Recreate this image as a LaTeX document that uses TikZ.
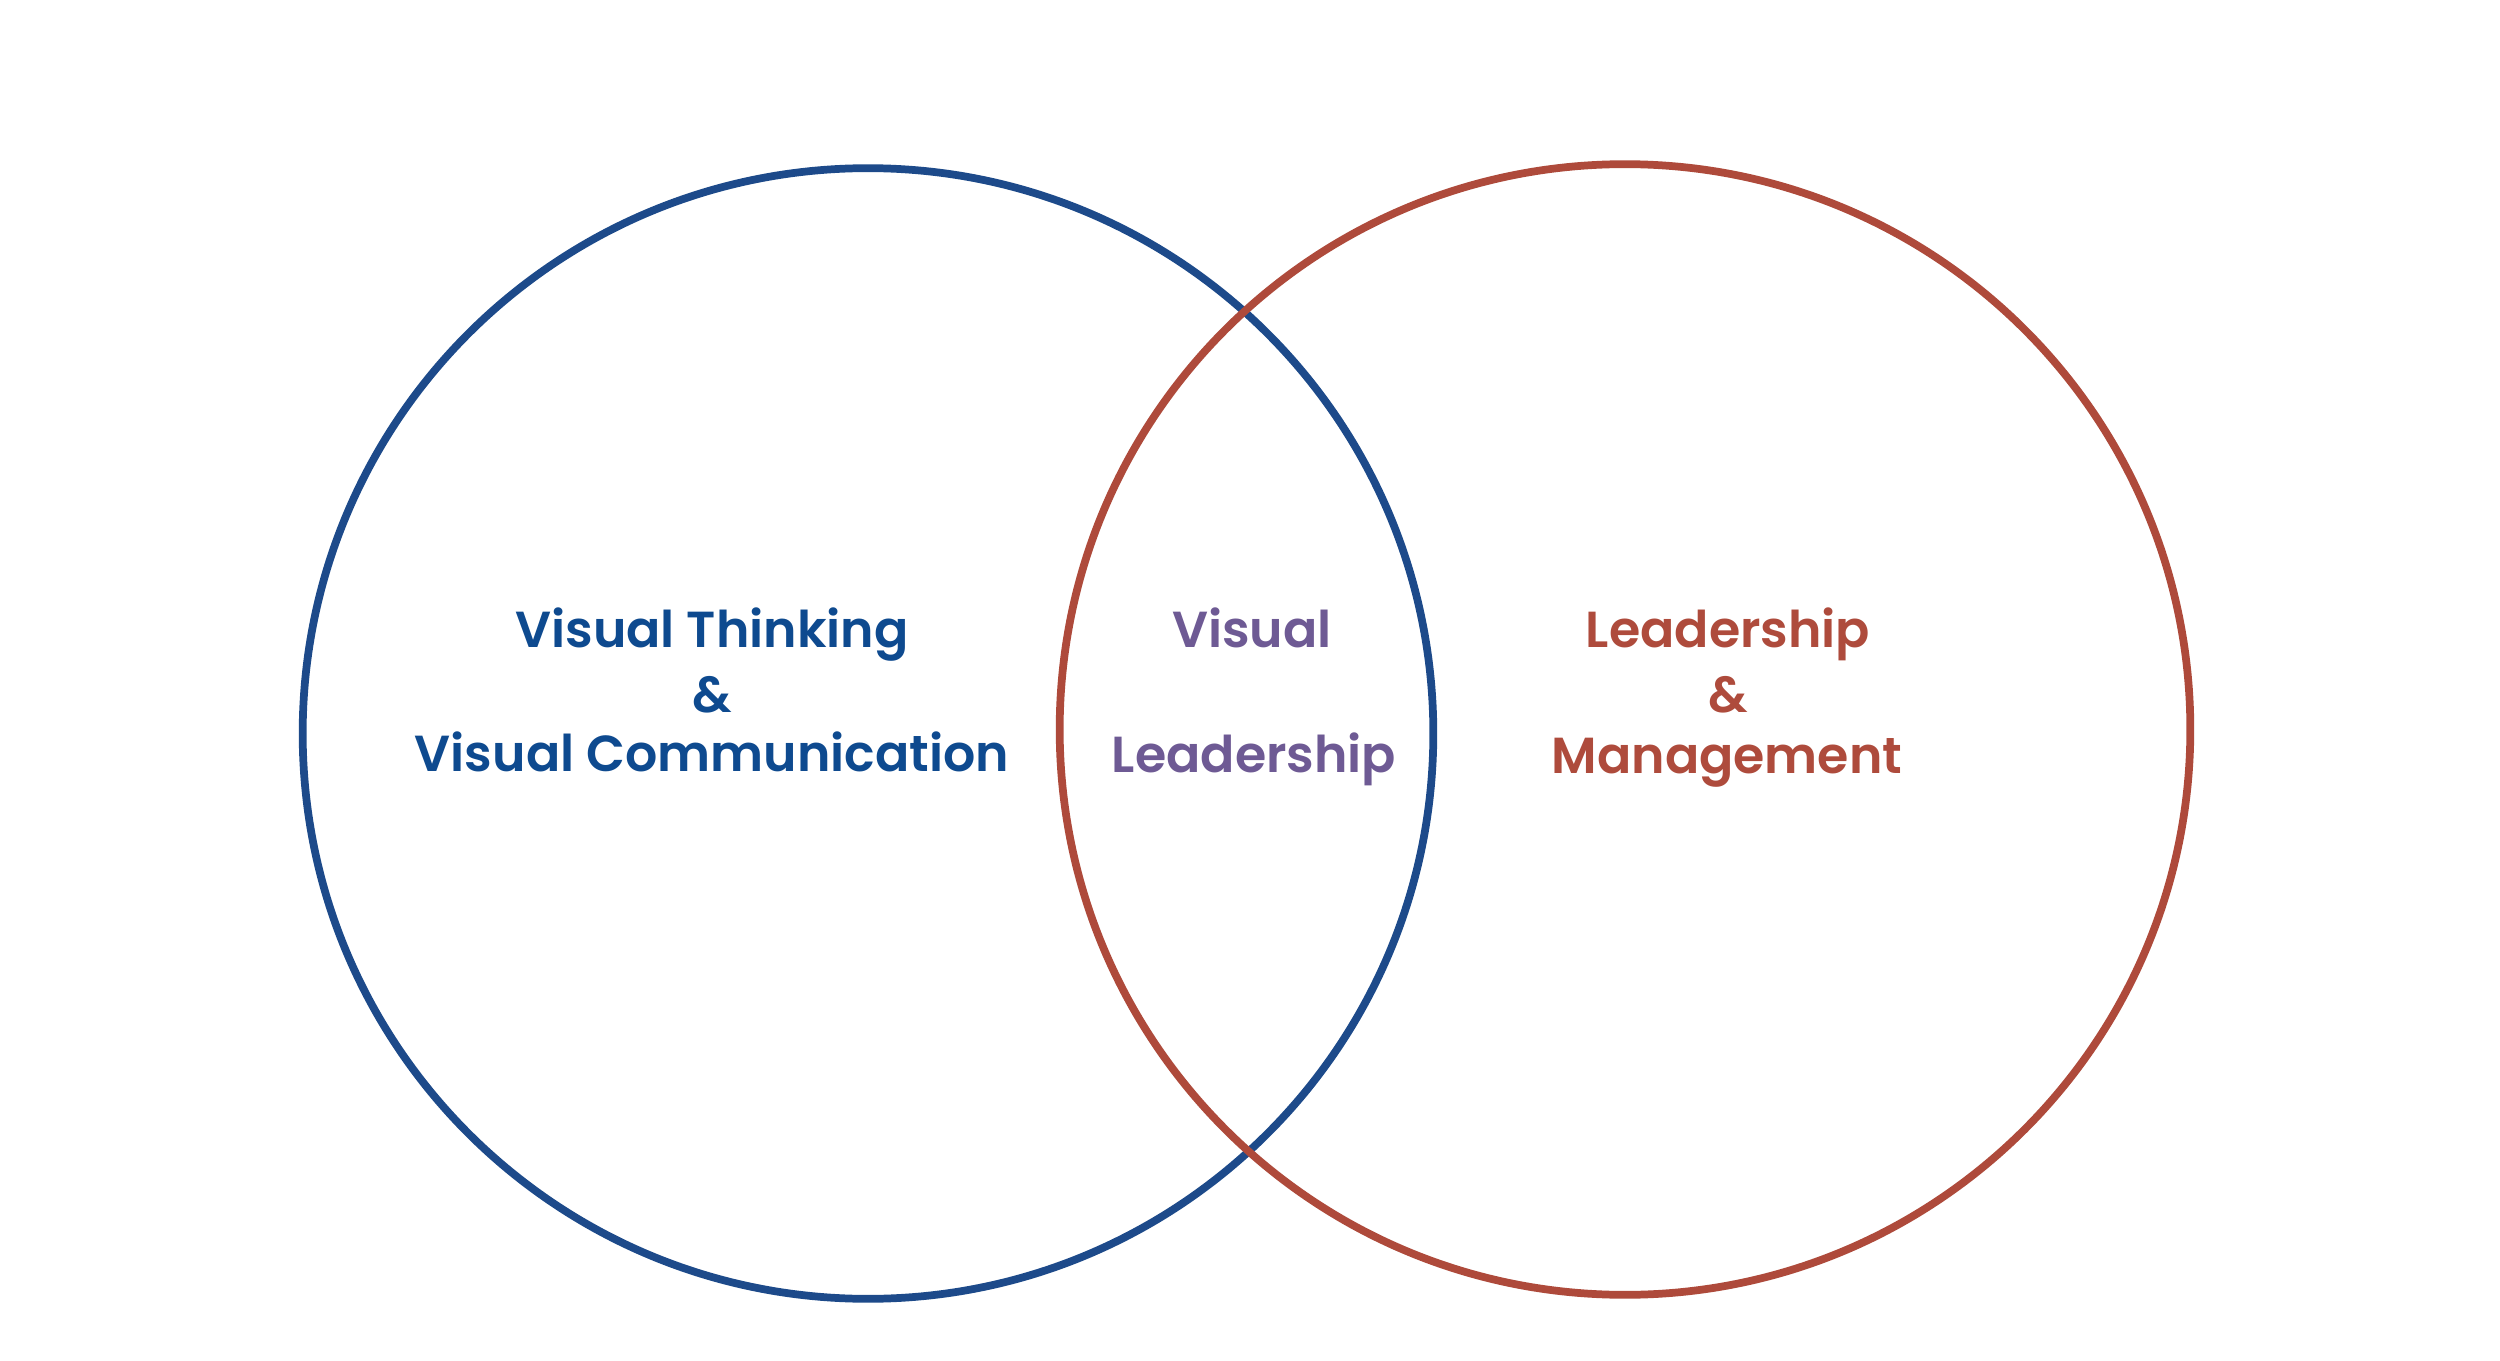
\documentclass[tikz,border=0pt]{standalone}
\usepackage{fontspec}
\newfontfamily\vfont{Poppins}[UprightFont=* SemiBold]
\definecolor{cblue}{HTML}{1D4A8A}
\definecolor{cred}{HTML}{AE4A3B}
\definecolor{tblue}{HTML}{0E4A8F}
\definecolor{tpurple}{HTML}{6E5A94}
\definecolor{tred}{HTML}{AE4B3C}
\begin{document}
\begin{tikzpicture}[x=0.01cm,y=-0.01cm,
  ring/.style={line width=2.2pt},
  lbl/.style={anchor=base,inner sep=0pt,font=\vfont\fontsize{14.4}{17}\selectfont}]
\useasboundingbox[fill=white] (0,0) rectangle (2500,1361);
\draw[ring,cblue] (868,733.5) circle[radius=5.65cm];
\draw[ring,cred] (1625,729.5) circle[radius=5.65cm];
% left
\node[lbl,text=tblue] (l1) at (712,647) {Visual Thinking};
\node[lbl,text=tblue] (l2) at (712,712) {\&};
\node[lbl,text=tblue] (l3) at (712,771) {Visual Communication};
% middle
\node[lbl,text=tpurple] (m1) at (1252,647) {Visual};
\node[lbl,text=tpurple] (m2) at (1254,772) {Leadership};
% right
\node[lbl,text=tred] (r1) at (1728,647) {Leadership};
\node[lbl,text=tred] (r2) at (1728,712) {\&};
\node[lbl,text=tred] (r3) at (1727,773) {Management};
\end{tikzpicture}
\end{document}
